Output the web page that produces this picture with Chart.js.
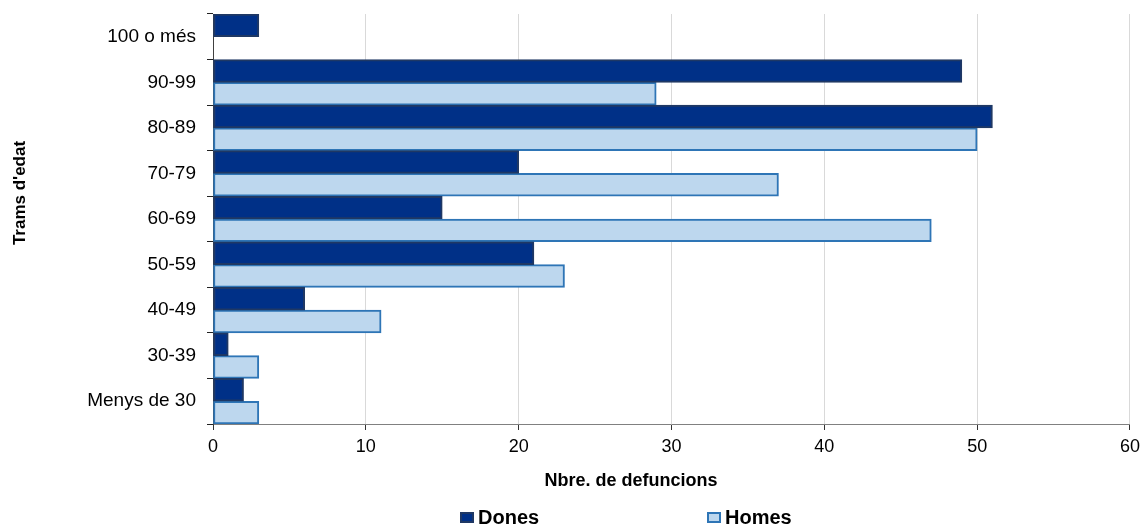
<!DOCTYPE html>
<html>
<head>
<meta charset="utf-8">
<script src="https://cdn.jsdelivr.net/npm/chart.js@4.4.0/dist/chart.umd.min.js"></script>
<style>
  body { margin: 0; background: #fff; }
  #wrap { width: 1146px; height: 526px; }
</style>
</head>
<body>
<div id="wrap"><canvas id="defuncions_chart" width="1146" height="526"></canvas></div>
<script>
// age groups, top to bottom
const categories = ["100 o més", "90-99", "80-89", "70-79", "60-69", "50-59", "40-49", "30-39", "Menys de 30"];
const dones = [3, 49, 51, 20, 15, 21, 6, 1, 2];
const homes = [null, 29, 50, 37, 47, 23, 11, 3, 3];
const xTicks = [0, 10, 20, 30, 40, 50, 60];

const FONT = "'Liberation Sans', Arial, sans-serif";

// draws axis titles and legend the way the original sheet had them
const extras = {
    id: 'extras',
    afterDraw(chart) {
        const ctx = chart.ctx;
        ctx.save();
        ctx.fillStyle = '#000';

        // y axis title
        ctx.save();
        ctx.font = "bold 17px " + FONT;
        ctx.textAlign = 'center';
        ctx.textBaseline = 'middle';
        ctx.translate(20, 193);
        ctx.rotate(-Math.PI / 2);
        ctx.fillText("Trams d'edat", 0, 0);
        ctx.restore();

        // x axis title
        ctx.font = "bold 18px " + FONT;
        ctx.textAlign = 'center';
        ctx.textBaseline = 'middle';
        ctx.fillText("Nbre. de defuncions", 631, 481);

        // legend
        const legendX = [460, 707];
        ctx.font = "bold 20px " + FONT;
        ctx.textAlign = 'left';
        chart.data.datasets.forEach((ds, i) => {
            const x = legendX[i];
            ctx.fillStyle = ds.backgroundColor;
            ctx.fillRect(x, 512, 14, 11);
            ctx.strokeStyle = ds.borderColor;
            ctx.lineWidth = 2;
            ctx.strokeRect(x + 1, 513, 12, 9);
            ctx.fillStyle = '#000';
            ctx.fillText(ds.label, x + 18, 518);
        });
        ctx.restore();
    }
};

const chart = new Chart(document.getElementById("defuncions_chart"), {
    type: 'bar',
    data: {
        labels: categories,
        datasets: [{
            label: "Dones",
            data: dones,
            backgroundColor: "#003087",
            borderColor: "#1f3864",
            borderWidth: 2,
            borderSkipped: false
        }, {
            label: "Homes",
            data: homes,
            backgroundColor: "#bdd7ee",
            borderColor: "#2e75b6",
            borderWidth: 2,
            borderSkipped: false
        }]
    },
    options: {
        indexAxis: 'y',
        responsive: false,
        animation: false,
        categoryPercentage: 1.0,
        barPercentage: 1.0,
        layout: {
            padding: { left: 0, right: 13, top: 14, bottom: 0 }
        },
        plugins: {
            legend: { display: false },
            tooltip: { enabled: false }
        },
        scales: {
            x: {
                min: 0,
                max: 60,
                afterBuildTicks: (scale) => {
                    scale.ticks = xTicks.map(v => ({ value: v }));
                },
                afterFit: (scale) => { scale.height = 102; },
                grid: {
                    color: '#d9d9d9',
                    tickColor: '#333',
                    tickLength: 6
                },
                border: { color: '#808080', width: 1 },
                ticks: {
                    color: '#000',
                    padding: 6,
                    font: { family: FONT, size: 18 }
                }
            },
            y: {
                afterFit: (scale) => {
                    scale.width = 213;
                    // labels sit inside their bands, no need for extra room
                    scale.paddingTop = 0;
                    scale.paddingBottom = 0;
                },
                grid: {
                    offset: true,
                    drawOnChartArea: false,
                    tickColor: '#222',
                    tickLength: 6
                },
                border: { color: '#404040', width: 1 },
                ticks: {
                    color: '#000',
                    padding: 11,
                    font: { family: FONT, size: 19 }
                }
            }
        }
    },
    plugins: [extras]
});
</script>
</body>
</html>
